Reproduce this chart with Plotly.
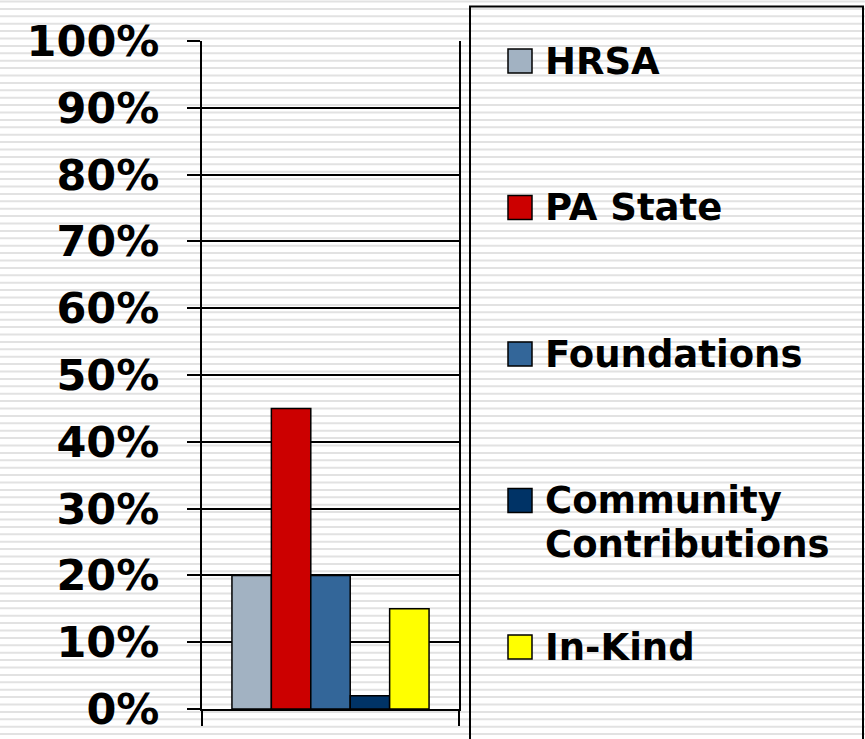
import plotly.graph_objects as go

# ---- data ----
series_names = ["HRSA", "PA State", "Foundations", "Community<br>Contributions", "In-Kind"]
series_values = [0.20, 0.45, 0.20, 0.02, 0.15]
series_colors = ["#A2B2C2", "#CC0000", "#336699", "#003366", "#FFFF00"]
category = ["Funding"]
y_tick_values = [0, 0.1, 0.2, 0.3, 0.4, 0.5, 0.6, 0.7, 0.8, 0.9, 1.0]
y_tick_labels = ["0%", "10%", "20%", "30%", "40%", "50%", "60%", "70%", "80%", "90%", "100%"]

W, H = 865, 739
ML, MR, MT, MB = 202, 406, 41, 30
PW, PH = W - ML - MR, H - MT - MB

def px_x(px):
    return (px - ML) / PW

def px_y(py):
    return (H - MB - py) / PH

FONT = "DejaVu Sans"

fig = go.Figure()
for name, val, col in zip(series_names, series_values, series_colors):
    fig.add_trace(go.Bar(
        x=category, y=[val], name=name.replace("<br>", " "),
        marker=dict(color=col, line=dict(color="black", width=1.5)),
        showlegend=False,
    ))

shapes = []
# striped background
py = 1.5
while py < H + 4:
    shapes.append(dict(type="line", xref="paper", yref="paper",
                       x0=px_x(0), x1=px_x(W), y0=px_y(py), y1=px_y(py),
                       line=dict(color="#E2E2E2", width=2), layer="below"))
    py += 7.4

# legend box
shapes.append(dict(type="rect", xref="paper", yref="paper",
                   x0=px_x(470), x1=px_x(863), y0=px_y(6.5), y1=px_y(H + 10),
                   line=dict(color="black", width=2), fillcolor="rgba(0,0,0,0)", layer="above"))

annotations = []
for i, (name, col) in enumerate(zip(series_names, series_colors)):
    cy = 61 + 146.5 * i
    shapes.append(dict(type="rect", xref="paper", yref="paper",
                       x0=px_x(508), x1=px_x(532), y0=px_y(cy - 12), y1=px_y(cy + 12),
                       line=dict(color="black", width=1.5), fillcolor=col, layer="above"))
    for j, line_text in enumerate(name.split("<br>")):
        annotations.append(dict(xref="paper", yref="paper", x=px_x(543),
                                y=px_y(cy + 44 * j), xanchor="left", yanchor="middle",
                                text="<b>" + line_text + "</b>", showarrow=False, align="left",
                                font=dict(family=FONT, size=37, color="black")))

fig.update_layout(
    width=W, height=H,
    margin=dict(l=ML, r=MR, t=MT, b=MB, pad=0),
    paper_bgcolor="white", plot_bgcolor="rgba(0,0,0,0)",
    barmode="group", bargap=0.233, bargroupgap=0,
    showlegend=False,
    shapes=shapes, annotations=annotations,
    font=dict(family=FONT, color="black"),
)
fig.update_xaxes(
    type="category", showticklabels=False, ticks="outside", tickson="boundaries",
    ticklen=15, tickwidth=1.5, tickcolor="black", automargin=False,
    showline=True, linecolor="black", linewidth=2, showgrid=False,
)
fig.update_yaxes(
    range=[0, 1.0], tickvals=y_tick_values, ticktext=["<b>%s</b>" % t for t in y_tick_labels],
    ticks="outside", ticklen=13, tickwidth=1.5, tickcolor="black", automargin=False,
    showgrid=True, gridcolor="black", gridwidth=1.5,
    showline=True, linecolor="black", linewidth=2, mirror=True,
    zeroline=False, ticklabelstandoff=19,
    tickfont=dict(family=FONT, size=43, color="black"),
)

fig.write_html("out.html", config={"displayModeBar": False},
               post_script="document.body.style.margin='0px';")
